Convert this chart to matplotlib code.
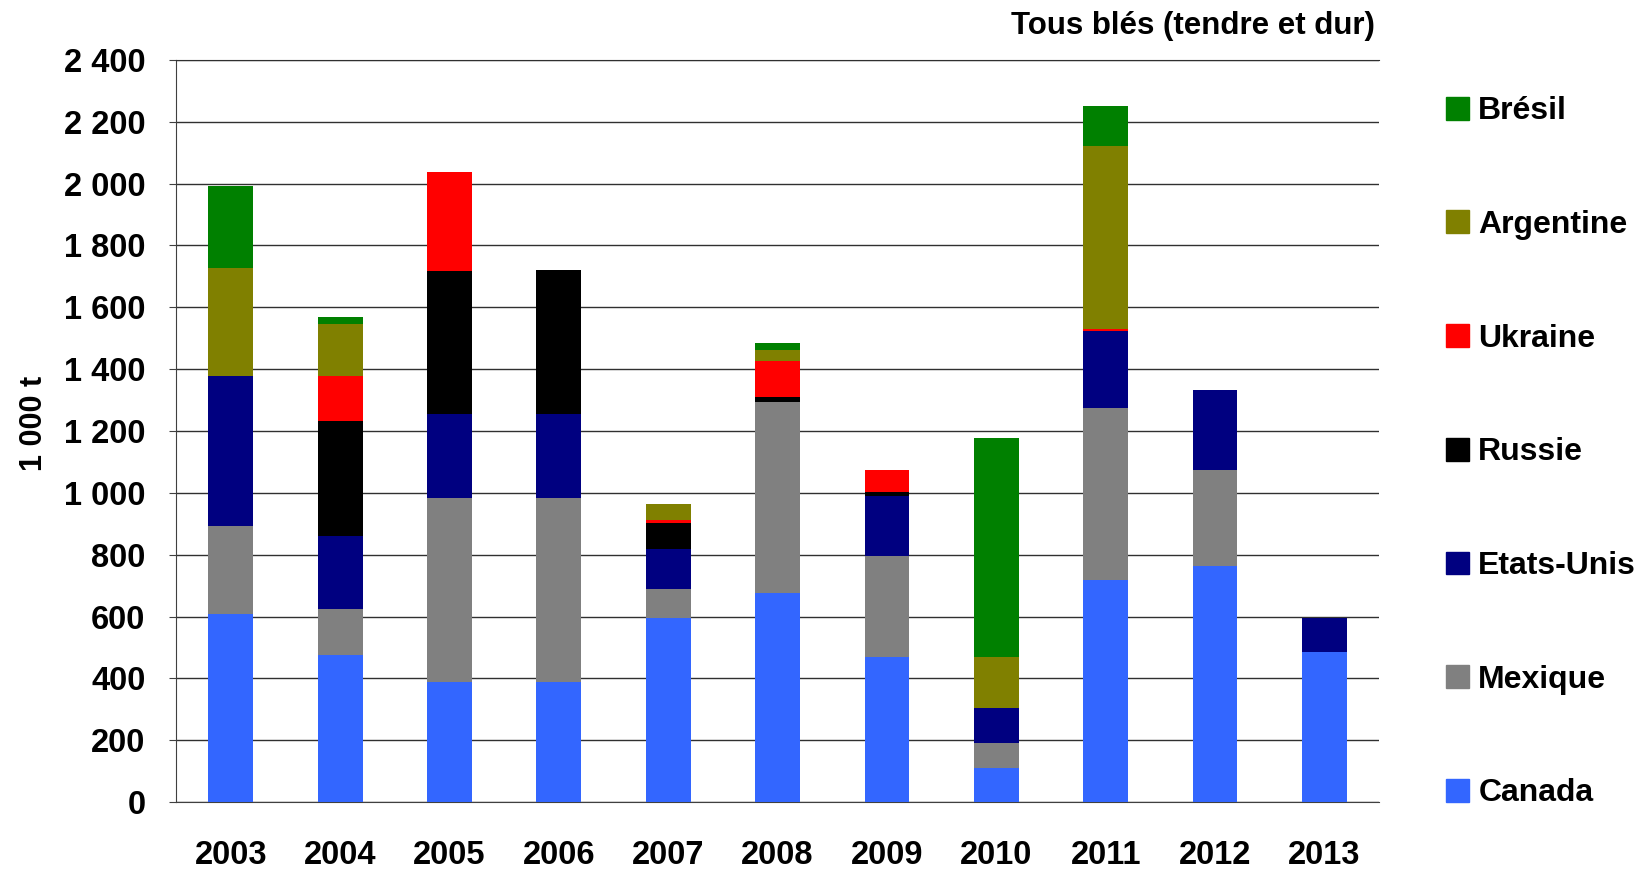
import numpy as np
import matplotlib.pyplot as plt
from matplotlib.patches import Patch

plt.rcParams['font.family'] = ['Liberation Sans', 'DejaVu Sans']
plt.rcParams['font.weight'] = 'bold'

annees = ['2003', '2004', '2005', '2006', '2007', '2008', '2009', '2010', '2011', '2012', '2013']

# 1 000 t
canada     = [607, 475, 387, 387, 594, 677, 469, 111, 719, 762, 485]
mexique    = [287, 148, 597, 597,  96, 617, 326,  80, 556, 313,   0]
etats_unis = [485, 236, 270, 270, 127,   0, 195, 112, 248, 257, 111]
russie     = [  0, 374, 464, 467,  84,  16,  13,   0,   0,   0,   0]
ukraine    = [  0, 146, 319,   0,  12, 117,  72,   0,   7,   0,   0]
argentine  = [347, 167,   0,   0,  52,  35,   0, 166, 591,   0,   0]
bresil     = [265,  22,   0,   0,   0,  23,   0, 709, 131,   0,   0]

series = [
    ('Canada', canada, '#3366ff'),
    ('Mexique', mexique, '#808080'),
    ('Etats-Unis', etats_unis, '#000080'),
    ('Russie', russie, '#000000'),
    ('Ukraine', ukraine, '#ff0000'),
    ('Argentine', argentine, '#808000'),
    ('Brésil', bresil, '#008000'),
]

fig = plt.figure(figsize=(16.5, 8.73), dpi=100)
ax = fig.add_axes([0.1067, 0.0813, 0.7291, 0.85])

x = np.arange(len(annees))
bas = np.zeros(len(annees))
for nom, vals, couleur in series:
    vals = np.array(vals, dtype=float)
    ax.bar(x, vals, bottom=bas, width=0.41, color=couleur, zorder=3)
    bas += vals

ax.set_xlim(-0.5, len(annees) - 0.5)
ax.set_ylim(0, 2400)
ax.set_yticks(np.arange(0, 2401, 200))
ax.set_yticklabels([f'{v:,}'.replace(',', ' ') for v in range(0, 2401, 200)])
ax.set_xticks(x)
ax.set_xticklabels(annees)
ax.tick_params(axis='y', labelsize=23.5, length=5, direction='out', pad=17, color='#404040')
ax.tick_params(axis='x', labelsize=23.5, length=0, pad=27)
ax.yaxis.grid(True, color='#303030', linewidth=1.0, zorder=0)

ax.spines['right'].set_visible(False)
ax.spines['top'].set_color('#303030')
ax.spines['left'].set_color('#404040')
ax.spines['bottom'].set_color('#404040')

ax.set_ylabel('1 000 t', fontsize=22, fontweight='bold')
ax.yaxis.set_label_coords(-0.106, 0.51)

fig.text(0.8335, 0.970, 'Tous blés (tendre et dur)', ha='right', va='center', fontsize=22.5)

handles = [Patch(color=c, label=n) for n, _, c in reversed(series)]
fig.legend(handles=handles, loc='upper left', bbox_to_anchor=(0.8665, 0.908),
           frameon=False, fontsize=23, labelspacing=2.62, handlelength=0.72,
           handleheight=0.72, handletextpad=0.3, borderpad=0)

fig.savefig('out.png', dpi=100)
